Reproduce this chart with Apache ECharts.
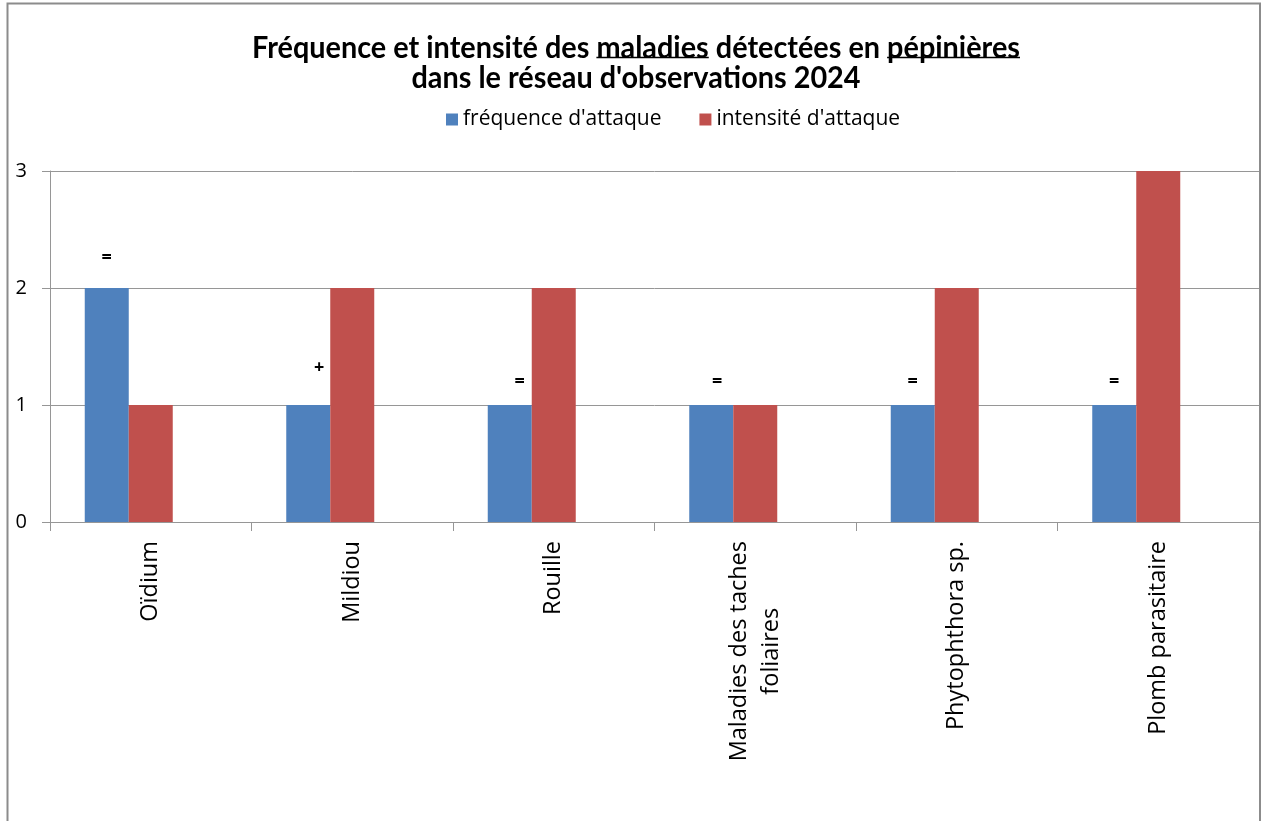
<!DOCTYPE html>
<html>
<head>
<meta charset="utf-8">
<script src="https://cdn.jsdelivr.net/npm/echarts@6/dist/echarts.min.js"></script>
<style>
  html, body { margin: 0; padding: 0; background: #ffffff; }
  #chart { width: 1262px; height: 821px; }
</style>
</head>
<body>
<div id="chart"></div>
<script>
// Disease categories observed in the nursery network
const categories = ['Oïdium', 'Mildiou', 'Rouille', 'Maladies des taches\nfoliaires', 'Phytophthora sp.', 'Plomb parasitaire'];
// Attack frequency and intensity (scale 0–3)
const frequence = [2, 1, 1, 1, 1, 1];
const intensite = [1, 2, 2, 1, 2, 3];
// Trend versus previous year, written above the frequency bars
const tendance = ['=', '+', '=', '=', '=', '='];
const yTicks = [0, 1, 2, 3];

const seriesNames = ["fréquence d'attaque", "intensité d'attaque"];
const titleLines = [
  [{ t: 'Fréquence et intensité des ', u: false }, { t: 'maladies', u: true }, { t: ' détectées en ', u: false }, { t: 'pépinières', u: true }],
  [{ t: "dans le réseau d'observations 2024", u: false }]
];

// small nudges for the trend marks [dx, dy]
const trendNudge = [[0, -7], [11, -14], [10, 0], [6, 0], [0, 0], [0, 0]];

const LABEL_FONT = '"Open Sans", Lato, sans-serif';
const TITLE_FAMILY = 'Lato, "Open Sans", sans-serif';
const TITLE_SIZE = 30;
const TITLE_WIDTH = 768;       // condensed look: first line squeezed to this width
const GRID_COLOR = '#969696';

// title drawn as graphic text (horizontally condensed), underlines sized from measured widths
const measureCtx = document.createElement('canvas').getContext('2d');
const titleFont = 'bold ' + TITLE_SIZE + 'px ' + TITLE_FAMILY;
measureCtx.font = titleFont;
const firstLineW = measureCtx.measureText(titleLines[0].map(function (p) { return p.t; }).join('')).width;
const titleScale = TITLE_WIDTH / firstLineW;
const titleCenterX = 636;
const titleBaselines = [53, 83];
const titleGraphics = [];
titleLines.forEach(function (parts, li) {
  const full = parts.map(function (p) { return p.t; }).join('');
  const fullW = measureCtx.measureText(full).width * titleScale;
  let x = titleCenterX - fullW / 2;
  titleGraphics.push({
    type: 'text',
    scaleX: titleScale,
    style: {
      text: full, fill: '#000', align: 'center', verticalAlign: 'bottom',
      font: titleFont, lineHeight: TITLE_SIZE
    },
    // bottom of the line box sits below the baseline
    position: [titleCenterX, titleBaselines[li] + 10]
  });
  parts.forEach(function (p) {
    const w = measureCtx.measureText(p.t).width * titleScale;
    if (p.u) {
      titleGraphics.push({
        type: 'line',
        shape: { x1: x, y1: titleBaselines[li] + 4.5, x2: x + w, y2: titleBaselines[li] + 4.5 },
        style: { stroke: '#000', lineWidth: 1.5 }
      });
    }
    x += w;
  });
});

const chart = echarts.init(document.getElementById('chart'), null, { renderer: 'canvas' });

chart.setOption({
  backgroundColor: '#ffffff',
  animation: false,
  textStyle: { fontFamily: LABEL_FONT },
  graphic: [
    {
      type: 'rect',
      shape: { x: 7.5, y: 3.5, width: 1252.5, height: 840 },
      style: { fill: 'none', stroke: '#8c8c8c', lineWidth: 2 }
    }
  ].concat(titleGraphics),
  legend: {
    data: seriesNames,
    left: 441,
    top: 104,
    itemWidth: 12,
    itemHeight: 12,
    itemGap: 38,
    icon: 'rect',
    textStyle: { fontSize: 21, color: '#000', fontFamily: LABEL_FONT }
  },
  grid: { left: 50, right: 3, top: 171, bottom: 299, containLabel: false },
  xAxis: {
    type: 'category',
    data: categories,
    boundaryGap: true,
    axisLine: { show: true, lineStyle: { color: GRID_COLOR, width: 1 } },
    axisTick: { show: true, length: 9, alignWithLabel: false, lineStyle: { color: GRID_COLOR } },
    axisLabel: {
      rotate: 90,
      margin: 19,
      interval: 0,
      color: '#000',
      formatter: function (v) {
        return v.split('\n').map(function (s) { return '{c|' + s + '}'; }).join('\n');
      },
      rich: {
        c: { align: 'center', fontSize: 23.5, lineHeight: 32, color: '#000', fontFamily: LABEL_FONT }
      }
    }
  },
  yAxis: {
    type: 'value',
    min: yTicks[0],
    max: yTicks[yTicks.length - 1],
    interval: 1,
    axisLine: { show: true, lineStyle: { color: GRID_COLOR, width: 1 } },
    axisTick: { show: true, length: 8, lineStyle: { color: GRID_COLOR } },
    axisLabel: { margin: 23, fontSize: 20, color: '#000', fontFamily: LABEL_FONT },
    splitLine: { show: true, lineStyle: { color: GRID_COLOR, width: 1 } }
  },
  series: [
    {
      name: seriesNames[0],
      type: 'bar',
      barWidth: 44,
      barGap: '0%',
      itemStyle: { color: '#4F81BD' },
      data: frequence.map(function (v, i) {
        return {
          value: v,
          label: {
            show: true,
            position: 'top',
            distance: 14,
            offset: trendNudge[i],
            formatter: tendance[i],
            fontSize: 18,
            fontWeight: 'bold',
            color: '#000'
          }
        };
      })
    },
    {
      name: seriesNames[1],
      type: 'bar',
      barWidth: 44,
      barGap: '0%',
      itemStyle: { color: '#C0504D' },
      data: intensite
    },
    {
      // empty third slot keeps each pair offset within its category
      name: 'vide',
      type: 'bar',
      barWidth: 44,
      barGap: '0%',
      data: categories.map(function () { return '-'; })
    }
  ]
});
</script>
</body>
</html>
